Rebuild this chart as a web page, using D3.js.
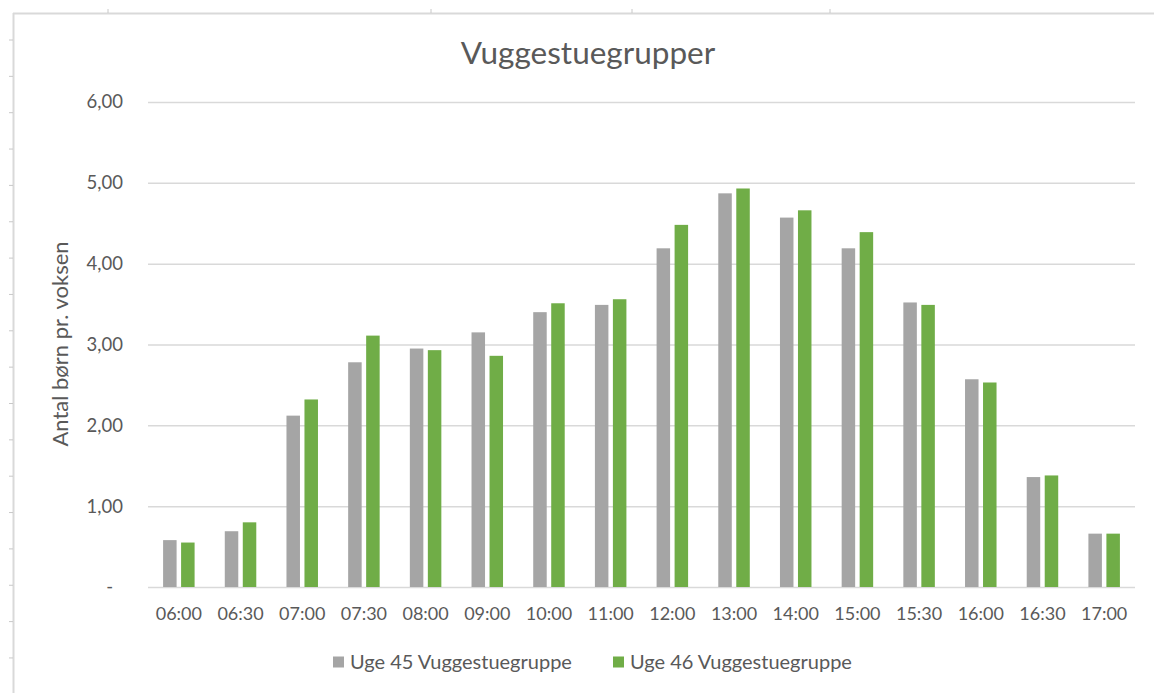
<!DOCTYPE html>
<html>
<head>
<meta charset="utf-8">
<script src="https://cdn.jsdelivr.net/npm/d3@7"></script>
<style>
  body { margin: 0; background: #fff; }
  svg { display: block; font-family: Lato, "Open Sans", sans-serif; }
</style>
</head>
<body>
<div id="chart"></div>
<script>
// data
const times = ["06:00", "06:30", "07:00", "07:30", "08:00", "09:00", "10:00", "11:00",
               "12:00", "13:00", "14:00", "15:00", "15:30", "16:00", "16:30", "17:00"];
const uge45 = [0.58, 0.69, 2.12, 2.78, 2.95, 3.15, 3.40, 3.49, 4.19, 4.87, 4.57, 4.19, 3.52, 2.57, 1.36, 0.66];
const uge46 = [0.55, 0.80, 2.32, 3.11, 2.93, 2.86, 3.51, 3.56, 4.48, 4.93, 4.66, 4.39, 3.49, 2.53, 1.38, 0.66];
const seriesNames = ["Uge 45 Vuggestuegruppe", "Uge 46 Vuggestuegruppe"];
const seriesColors = ["#a5a5a5", "#70ad47"];
const yTicks = [0, 1, 2, 3, 4, 5, 6];

const width = 1154, height = 693;
const margin = {top: 102, right: 19, bottom: 106, left: 148};

let svg = d3.select("#chart").append("svg")
    .attr("width", width)
    .attr("height", height);

// sheet frame left over from the spreadsheet screenshot
const frame = "#d9d9d9";
svg.append("line").attr("x1", 13).attr("x2", width).attr("y1", 13.5).attr("y2", 13.5)
    .attr("stroke", frame).attr("stroke-width", 2);
svg.append("line").attr("x1", 13.5).attr("x2", 13.5).attr("y1", 13).attr("y2", height)
    .attr("stroke", frame).attr("stroke-width", 2);
svg.selectAll(".colTick").data([108, 431, 632, 830]).enter().append("line")
    .attr("x1", d => d).attr("x2", d => d).attr("y1", 9).attr("y2", 13)
    .attr("stroke", "#c8c8c8");
svg.selectAll(".rowTick").data(d3.range(40, height, 36.35)).enter().append("line")
    .attr("x1", 9).attr("x2", 13).attr("y1", d => d).attr("y2", d => d)
    .attr("stroke", "#c8c8c8");

let x = d3.scaleBand()
    .domain(times)
    .range([margin.left, width - margin.right]);

let groupW = 31.5;
let x1 = d3.scaleBand()
    .domain([0, 1])
    .range([(x.bandwidth() - groupW) / 2, (x.bandwidth() + groupW) / 2])
    .paddingInner(0.25);

let y = d3.scaleLinear()
    .domain([0, 6])
    .range([height - margin.bottom, margin.top]);

const fmt = d3.formatLocale({decimal: ",", thousands: ".", grouping: [3], currency: ["", ""]}).format(".2f");

// gridlines
svg.append("g")
    .selectAll("line")
    .data(yTicks)
    .enter().append("line")
    .attr("x1", margin.left)
    .attr("x2", width - margin.right)
    .attr("y1", d => y(d) + 0.5)
    .attr("y2", d => y(d) + 0.5)
    .attr("stroke", "#d9d9d9")
    .attr("stroke-width", 1.5);

// y labels
svg.append("g")
    .selectAll("text")
    .data(yTicks)
    .enter().append("text")
    .attr("x", d => d === 0 ? 113 : 123)
    .attr("y", d => y(d))
    .attr("dy", "0.35em")
    .attr("text-anchor", "end")
    .attr("fill", "#595959")
    .attr("font-size", 18.5)
    .text(d => d === 0 ? "-" : fmt(d));

// bars
let rows = times.map((t, i) => ({t: t, vals: [uge45[i], uge46[i]]}));

let groups = svg.append("g")
    .selectAll("g")
    .data(rows)
    .enter().append("g")
    .attr("transform", d => "translate(" + x(d.t) + ",0)");

groups.selectAll("rect")
    .data(d => d.vals.map((v, s) => ({v: v, s: s})))
    .enter().append("rect")
    .attr("x", d => x1(d.s))
    .attr("width", x1.bandwidth())
    .attr("y", d => y(d.v))
    .attr("height", d => y(0) - y(d.v))
    .attr("fill", d => seriesColors[d.s]);

// x labels
svg.append("g")
    .selectAll("text")
    .data(times)
    .enter().append("text")
    .attr("x", d => x(d) + x.bandwidth() / 2)
    .attr("y", 614)
    .attr("dy", "0.35em")
    .attr("text-anchor", "middle")
    .attr("fill", "#595959")
    .attr("font-size", 18)
    .text(d => d);

// title
svg.append("text")
    .attr("x", 588)
    .attr("y", 64)
    .attr("text-anchor", "middle")
    .attr("fill", "#595959")
    .attr("font-size", 31.5)
    .text("Vuggestuegrupper");

// y axis title
svg.append("text")
    .attr("transform", "translate(68,344)rotate(-90)")
    .attr("text-anchor", "middle")
    .attr("fill", "#595959")
    .attr("font-size", 22)
    .text("Antal børn pr. voksen");

// legend
let legendX = [333, 613];
let legend = svg.append("g")
    .selectAll("g")
    .data(seriesNames)
    .enter().append("g")
    .attr("transform", (d, i) => "translate(" + legendX[i] + ",662)");

legend.append("rect")
    .attr("x", 0)
    .attr("y", -5.5)
    .attr("width", 11)
    .attr("height", 11)
    .attr("fill", (d, i) => seriesColors[i]);

legend.append("text")
    .attr("x", 17)
    .attr("dy", "0.35em")
    .attr("fill", "#595959")
    .attr("font-size", 20)
    .text(d => d);
</script>
</body>
</html>
